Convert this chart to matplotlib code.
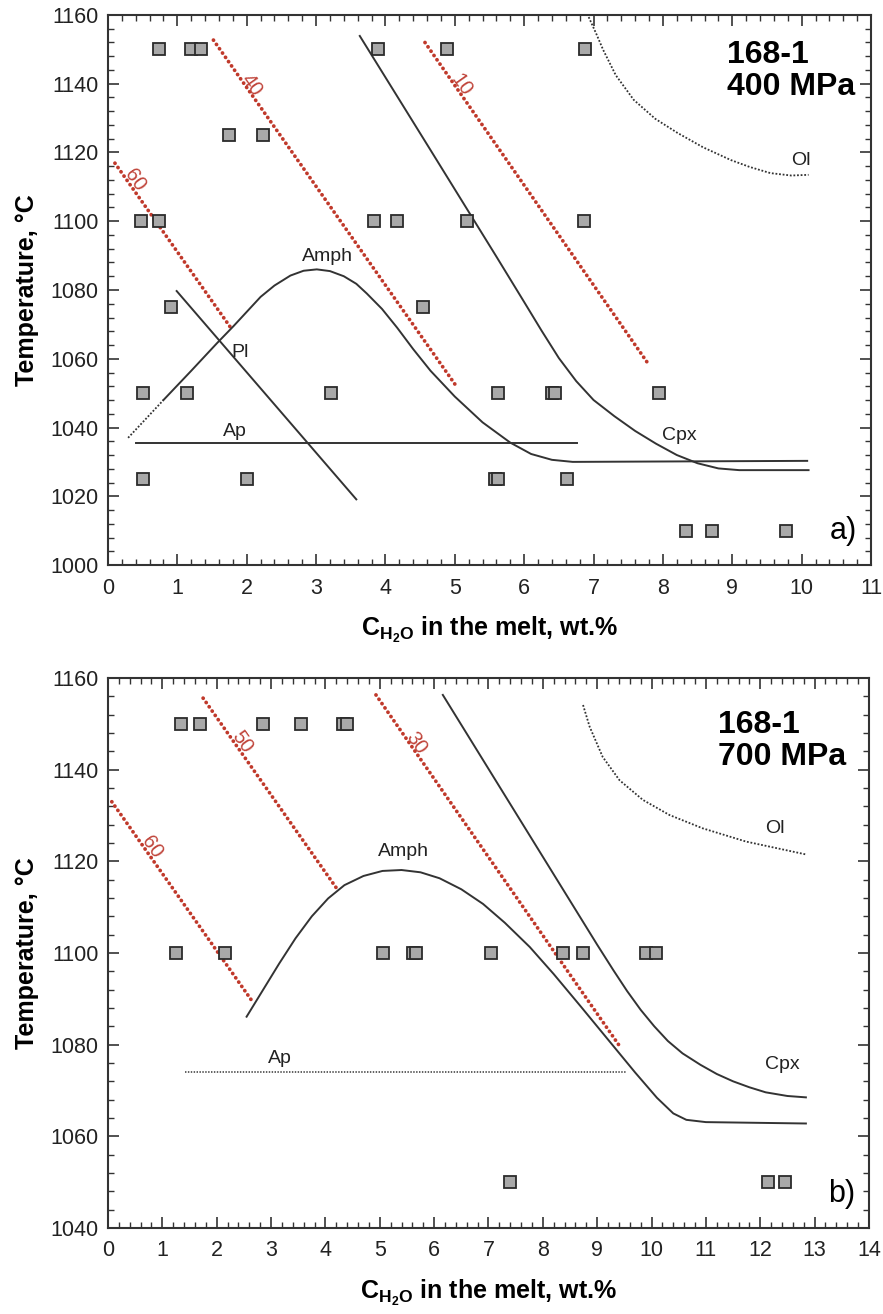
import matplotlib
matplotlib.use("Agg")
import matplotlib.pyplot as plt
from matplotlib.ticker import MultipleLocator

plt.rcParams['font.family'] = ['Liberation Sans', 'DejaVu Sans']
plt.rcParams['mathtext.fontset'] = 'custom'
plt.rcParams['mathtext.rm'] = 'Liberation Sans'
plt.rcParams['mathtext.bf'] = 'Liberation Sans:bold'

# ---------------- Panel a) 168-1, 400 MPa ----------------
a_sq_x = [0.74, 1.19, 1.34, 3.89, 4.89, 6.88,
          1.74, 2.24,
          0.47, 0.73, 3.84, 4.17, 5.17, 6.86,
          0.91, 4.54,
          0.51, 1.14, 3.22, 5.62, 6.40, 6.44, 7.94,
          0.51, 2.00, 5.58, 5.62, 6.62,
          8.33, 8.71, 9.77]
a_sq_T = [1150] * 6 + [1125] * 2 + [1100] * 6 + [1075] * 2 + [1050] * 7 + [1025] * 5 + [1010] * 3

a_iso60_x = [0.10, 1.76]
a_iso60_T = [1116.9, 1069.3]
a_iso40_x = [1.52, 5.04]
a_iso40_T = [1152.7, 1051.5]
a_iso10_x = [4.57, 7.80]
a_iso10_T = [1152.0, 1058.2]

a_pl_x = [0.99, 3.58]
a_pl_T = [1079.7, 1019.1]

a_amph_dot_x = [0.29, 0.80]
a_amph_dot_T = [1037.0, 1048.0]
a_amph_x = [0.80, 1.20, 1.57, 1.81, 2.20, 2.40, 2.63, 2.82, 3.01, 3.20, 3.40, 3.58, 3.73, 3.95, 4.17,
            4.40, 4.65, 5.00, 5.40, 5.80, 6.10, 6.40, 6.70, 10.08]
a_amph_T = [1048.0, 1056.5, 1064.5, 1069.5, 1078.0, 1081.3, 1084.2, 1085.6, 1086.0, 1085.5, 1084.0, 1081.8,
            1079.0, 1074.5, 1069.0, 1062.8, 1056.5, 1049.0, 1041.5, 1035.6, 1032.3, 1030.6, 1030.0, 1030.3]

a_cpx_x = [3.63, 4.65, 5.60, 6.00, 6.25, 6.50, 6.75, 7.00, 7.30, 7.60, 7.90, 8.20, 8.50, 8.80, 9.10, 10.10]
a_cpx_T = [1153.9, 1120.7, 1089.7, 1076.5, 1068.2, 1060.2, 1053.5, 1048.0, 1043.3, 1039.0, 1035.3, 1032.0,
           1029.6, 1028.1, 1027.6, 1027.6]

a_ap_x = [0.41, 6.76]
a_ap_T = [1035.4, 1035.4]

a_ol_x = [6.93, 7.04, 7.14, 7.32, 7.58, 7.89, 8.21, 8.58, 8.98, 9.25, 9.55, 9.85, 10.10]
a_ol_T = [1159.4, 1154.5, 1149.8, 1142.5, 1135.3, 1129.8, 1125.7, 1121.5, 1117.8, 1115.8, 1114.0, 1113.3, 1113.5]

# ---------------- Panel b) 168-1, 700 MPa ----------------
b_sq_x = [1.35, 1.69, 2.86, 3.55, 4.33, 4.40,
          1.25, 2.15, 5.06, 5.61, 5.66, 7.05, 8.37, 8.74, 9.90, 10.09,
          7.39, 12.14, 12.46]
b_sq_T = [1150] * 6 + [1100] * 10 + [1050] * 3

b_iso60_x = [0.07, 2.64]
b_iso60_T = [1133.0, 1089.7]
b_iso50_x = [1.75, 4.23]
b_iso50_T = [1155.6, 1113.7]
b_iso30_x = [4.93, 9.40]
b_iso30_T = [1156.3, 1079.9]

b_amph_x = [2.55, 2.85, 3.15, 3.45, 3.75, 4.05, 4.35, 4.70, 5.05, 5.40, 5.75, 6.10, 6.50, 6.90, 7.30,
            7.76, 8.20, 8.70, 9.20, 9.70, 10.10, 10.40, 10.64, 11.00, 12.84]
b_amph_T = [1086.1, 1091.9, 1097.7, 1103.2, 1108.0, 1111.9, 1114.8, 1116.8, 1117.9, 1118.1, 1117.6, 1116.3,
            1113.9, 1110.7, 1106.6, 1101.3, 1095.4, 1088.3, 1081.1, 1073.9, 1068.4, 1065.0, 1063.6, 1063.1,
            1062.8]

b_cpx_x = [6.16, 9.00, 9.30, 9.55, 9.80, 10.05, 10.30, 10.57, 10.90, 11.20, 11.50, 11.80, 12.10, 12.50, 12.84]
b_cpx_T = [1156.3, 1101.8, 1096.2, 1091.7, 1087.6, 1084.0, 1080.8, 1078.1, 1075.6, 1073.6, 1072.0, 1070.7,
           1069.6, 1068.8, 1068.5]

b_ap_x = [1.42, 9.53]
b_ap_T = [1074.1, 1074.1]

b_ol_x = [8.74, 8.86, 9.10, 9.41, 9.84, 10.33, 10.94, 11.74, 12.84]
b_ol_T = [1154.1, 1149.4, 1142.8, 1137.7, 1133.4, 1130.1, 1127.2, 1124.3, 1121.5]

# ---------------- styling ----------------
RED = '#c0392b'
RED_TXT = '#c0443a'
LINE = '#333333'
SQ_FACE = '#a9a9a9'
SQ_EDGE = '#2b2b2b'

fig = plt.figure(figsize=(8.83, 13.14), dpi=100)
ax_a = fig.add_axes([0.1223, 0.5700, 0.8641, 0.4186])
ax_b = fig.add_axes([0.1223, 0.06545, 0.8618, 0.4186])


def style_axes(ax, xmax, ymin, ymax):
    ax.set_xlim(0, xmax)
    ax.set_ylim(ymin, ymax)
    ax.xaxis.set_major_locator(MultipleLocator(1))
    ax.xaxis.set_minor_locator(MultipleLocator(0.2))
    ax.yaxis.set_major_locator(MultipleLocator(20))
    ax.yaxis.set_minor_locator(MultipleLocator(4))
    ax.tick_params(which='both', direction='in', top=True, right=True, color=LINE)
    ax.tick_params(which='major', length=8, width=1.2, labelsize=15.5, labelcolor='#222222')
    ax.tick_params(which='minor', length=4.5, width=1.0)
    ax.tick_params(axis='x', which='major', pad=9)
    ax.tick_params(axis='y', which='major', pad=7)
    for s in ax.spines.values():
        s.set_linewidth(1.5)
        s.set_color(LINE)
    ax.set_xlabel(r'$\mathbf{C_{H_2O}}$ in the melt, wt.%', fontsize=18, fontweight='bold', labelpad=12)
    ax.set_ylabel('Temperature, °C', fontsize=18, fontweight='bold', labelpad=8)


def iso(ax, x, T, label, lx, lT):
    ax.plot(x, T, color=RED, lw=2.7, linestyle=(0, (0.05, 1.35)), dash_capstyle='round',
            solid_capstyle='round', zorder=2)
    ax.text(lx, lT, label, color=RED_TXT, fontsize=14.5, rotation=-55, ha='center', va='center',
            rotation_mode='anchor', zorder=3)


# ----- panel a -----
style_axes(ax_a, 11, 1000, 1160)
iso(ax_a, a_iso60_x, a_iso60_T, '60', 0.39, 1112.0)
iso(ax_a, a_iso40_x, a_iso40_T, '40', 2.07, 1139.6)
iso(ax_a, a_iso10_x, a_iso10_T, '10', 5.10, 1139.6)
ax_a.plot(a_pl_x, a_pl_T, color=LINE, lw=1.4)
ax_a.plot(a_amph_dot_x, a_amph_dot_T, color=LINE, lw=1.3, linestyle=(0, (1, 1)))
ax_a.plot(a_amph_x, a_amph_T, color=LINE, lw=1.4)
ax_a.plot(a_cpx_x, a_cpx_T, color=LINE, lw=1.4)
ax_a.plot(a_ap_x, a_ap_T, color=LINE, lw=1.4)
ax_a.plot(a_ol_x, a_ol_T, color=LINE, lw=1.3, linestyle=(0, (1, 1)))
ax_a.plot(a_sq_x, a_sq_T, 's', ms=8.5, mfc=SQ_FACE, mec=SQ_EDGE, mew=1.3, zorder=4)
ax_a.text(3.16, 1089.7, 'Amph', fontsize=14, ha='center', va='center', color='#222222')
ax_a.text(1.90, 1061.7, 'Pl', fontsize=14, ha='center', va='center', color='#222222')
ax_a.text(1.83, 1038.8, 'Ap', fontsize=14, ha='center', va='center', color='#222222')
ax_a.text(8.23, 1037.8, 'Cpx', fontsize=14, ha='center', va='center', color='#222222')
ax_a.text(9.99, 1117.8, 'Ol', fontsize=14, ha='center', va='center', color='#222222')
ax_a.text(0.811, 0.955, '168-1\n400 MPa', transform=ax_a.transAxes, fontsize=23, fontweight='bold',
          ha='left', va='top', linespacing=1.1)
ax_a.text(0.982, 0.035, 'a)', transform=ax_a.transAxes, fontsize=22, ha='right', va='bottom')

# ----- panel b -----
style_axes(ax_b, 14, 1040, 1160)
iso(ax_b, b_iso60_x, b_iso60_T, '60', 0.80, 1123.2)
iso(ax_b, b_iso50_x, b_iso50_T, '50', 2.46, 1146.1)
iso(ax_b, b_iso30_x, b_iso30_T, '30', 5.66, 1145.7)
ax_b.plot(b_amph_x, b_amph_T, color=LINE, lw=1.4)
ax_b.plot(b_cpx_x, b_cpx_T, color=LINE, lw=1.4)
ax_b.plot(b_ap_x, b_ap_T, color='#555555', lw=1.3, linestyle=(0, (0.8, 0.8)))
ax_b.plot(b_ol_x, b_ol_T, color=LINE, lw=1.3, linestyle=(0, (1, 1)))
ax_b.plot(b_sq_x, b_sq_T, 's', ms=8.5, mfc=SQ_FACE, mec=SQ_EDGE, mew=1.3, zorder=4)
ax_b.text(5.43, 1122.1, 'Amph', fontsize=14, ha='center', va='center', color='#222222')
ax_b.text(3.16, 1077.0, 'Ap', fontsize=14, ha='center', va='center', color='#222222')
ax_b.text(12.41, 1075.7, 'Cpx', fontsize=14, ha='center', va='center', color='#222222')
ax_b.text(12.26, 1127.2, 'Ol', fontsize=14, ha='center', va='center', color='#222222')
ax_b.text(0.802, 0.942, '168-1\n700 MPa', transform=ax_b.transAxes, fontsize=23, fontweight='bold',
          ha='left', va='top', linespacing=1.1)
ax_b.text(0.982, 0.035, 'b)', transform=ax_b.transAxes, fontsize=22, ha='right', va='bottom')

fig.savefig('out.png', dpi=100)
